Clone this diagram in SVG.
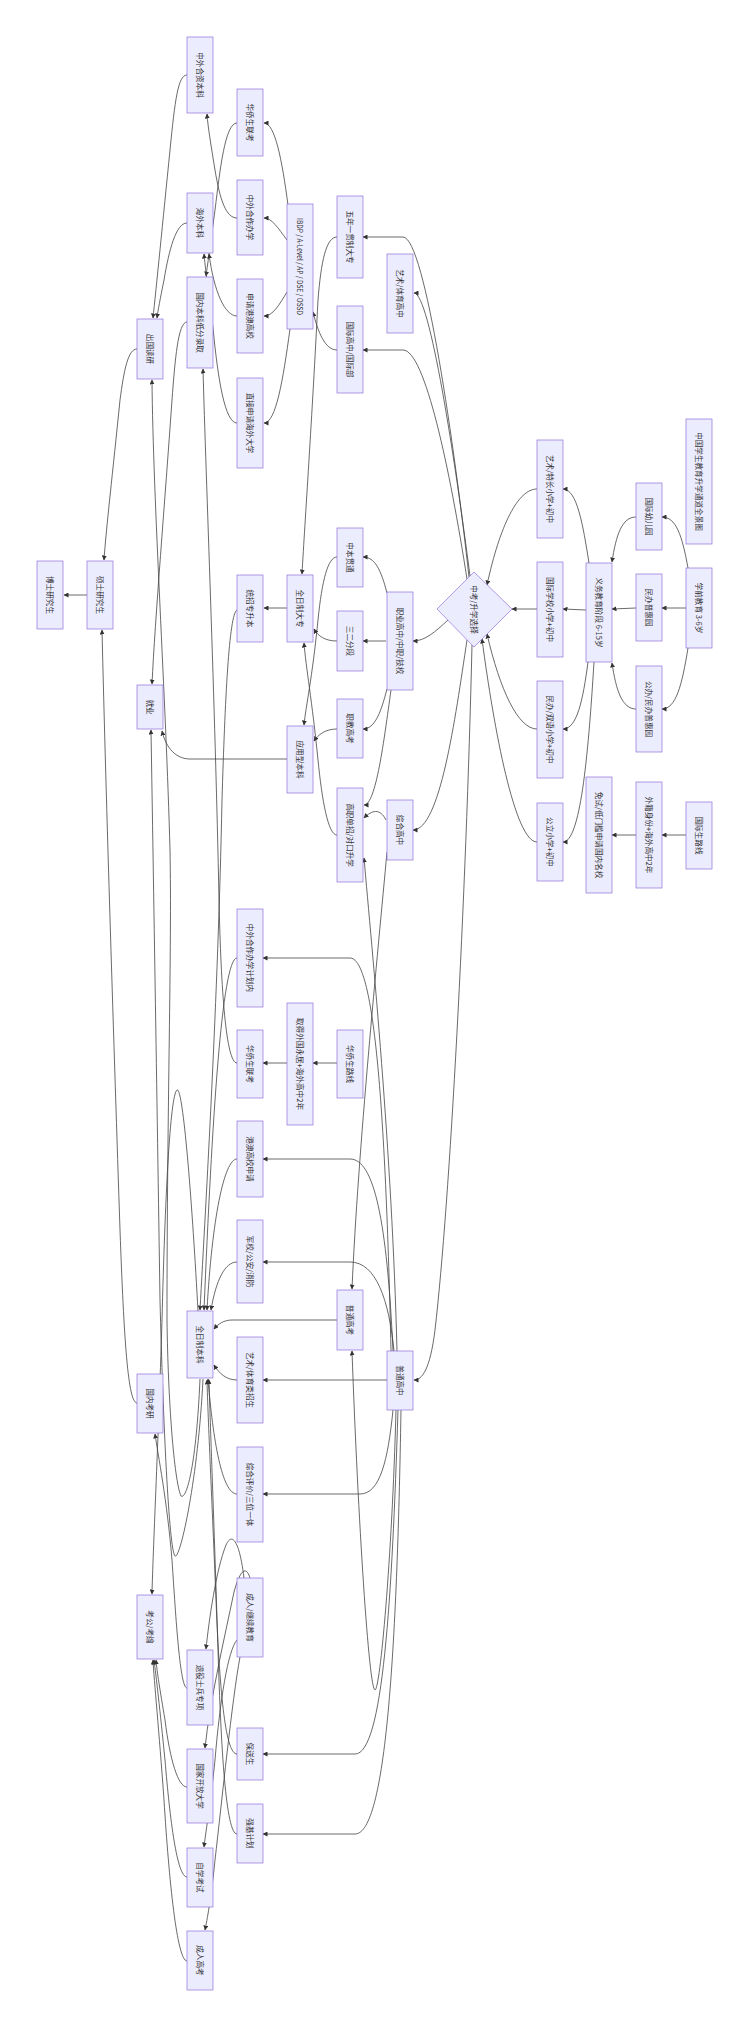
<svg xmlns="http://www.w3.org/2000/svg" width="750" height="2029" viewBox="0 0 750 2029">
<defs>
<marker id="arr" viewBox="0 0 10 10" refX="9" refY="5" markerWidth="5" markerHeight="5" markerUnits="userSpaceOnUse" orient="auto"><path d="M0,0 L10,5 L0,10 z" fill="#333"/></marker>
<style>
.node rect,.node polygon{fill:#ECECFF;stroke:#9370DB;stroke-width:0.7}
.node text{font-family:"Noto Sans CJK SC","Noto Sans","Liberation Sans",sans-serif;font-size:7.6px;fill:#333;text-anchor:middle;dominant-baseline:central}
.edges path{fill:none;stroke:#444;stroke-width:0.8;marker-end:url(#arr)}
</style>
</defs>
<rect width="750" height="2029" fill="#fff"/>
<g id="edges" class="edges">
<path d="M688,568 C682,535 676,517 662,517"/>
<path d="M686,608 L662,608"/>
<path d="M688,648 C682,685 676,709 662,709"/>
<path d="M636,517 C622,517 616,535 612,562"/>
<path d="M636,608 L612,609"/>
<path d="M636,709 C622,709 616,690 612,663"/>
<path d="M589,563 C583,525 577,489 563,489"/>
<path d="M586,610 L563,609"/>
<path d="M588,662 C583,700 577,729 563,729"/>
<path d="M594,662 C588,760 580,842 563,842"/>
<path d="M686,835 L662,835"/>
<path d="M636,835 L612,835"/>
<path d="M537,489 C518,489 500,525 487,585"/>
<path d="M537,609 L512,609"/>
<path d="M537,729 C518,729 500,690 487,634"/>
<path d="M537,842 C515,842 494,730 482,639"/>
<path d="M448,620 C435,632 425,641 413,641"/>
<path d="M467,640 C455,720 440,830 413,830"/>
<path d="M472,645 C466,900 450,1200 435,1330 C430,1370 422,1380 414,1380"/>
<path d="M469,577 C455,450 425,237 403,237 L363,237"/>
<path d="M470,576 C455,460 430,293 414,293"/>
<path d="M467,579 C450,470 425,350 403,350 L363,350"/>
<path d="M387,593 C381,570 375,557 363,557"/>
<path d="M386,641 L363,641"/>
<path d="M387,689 C381,712 375,729 363,729"/>
<path d="M391,690 C384,740 376,805 364,805"/>
<path d="M386,820 C380,808 372,810 364,818"/>
<path d="M387,852 C378,950 358,1150 352,1289"/>
<path d="M397,1351 C392,1150 372,950 364,858"/>
<path d="M391,1351 C385,1080 372,958 350,958 L263,958"/>
<path d="M393,1351 C387,1220 374,1159 350,1159 L263,1159"/>
<path d="M394,1351 C389,1300 376,1262 350,1262 L263,1262"/>
<path d="M396,1410 C392,1560 380,1690 375,1690 C369,1690 358,1520 352,1351"/>
<path d="M387,1380 L263,1380"/>
<path d="M393,1410 C388,1460 380,1494 360,1494 L263,1494"/>
<path d="M398,1410 C392,1600 383,1754 355,1754 L263,1754"/>
<path d="M401,1410 C397,1650 386,1834 355,1834 L263,1834"/>
<path d="M337,1320 L232,1320 C224,1320 218,1324 214,1329"/>
<path d="M237,1380 C226,1380 219,1373 214,1365"/>
<path d="M237,1494 C222,1494 213,1440 208,1379"/>
<path d="M237,1262 C225,1262 216,1280 211,1310"/>
<path d="M237,1159 C224,1159 212,1220 207,1310"/>
<path d="M237,958 C222,958 212,1120 204,1310"/>
<path d="M237,1063 C226,1063 221,990 219,900 C215,700 206,480 203,369"/>
<path d="M237,610 C229,614 225,700 222,800 C218,1000 206,1200 200,1310"/>
<path d="M337,1063 L313,1063"/>
<path d="M287,1063 L263,1063"/>
<path d="M337,237 C326,237 321,262 318,300 C312,420 305,520 302,574"/>
<path d="M337,350 C325,350 318,332 313,312"/>
<path d="M288,205 C282,160 275,123 264,123"/>
<path d="M287,240 C278,228 272,218 264,218"/>
<path d="M287,292 C279,305 273,316 264,316"/>
<path d="M290,329 C283,380 276,423 264,423"/>
<path d="M237,123 C225,123 220,170 215,210 C211,240 208,262 206,276"/>
<path d="M237,218 C226,218 220,200 215,170 C211,145 208,128 207,114"/>
<path d="M237,316 C225,316 214,292 209,254"/>
<path d="M237,423 C225,423 218,380 213,328 C210,300 206,276 204,254"/>
<path d="M187,223 C176,223 169,250 164,280 C160,300 158,310 157,318"/>
<path d="M187,75 C178,75 175,100 170,150 C163,220 156,290 153,318"/>
<path d="M187,322 C178,322 175,360 172,400 C165,500 155,620 152,684"/>
<path d="M137,349 C128,349 124,370 120,400 C113,470 106,530 104,560"/>
<path d="M87,595 L64,595"/>
<path d="M137,1403 C128,1403 124,1340 120,1230 C114,1050 106,800 102,630"/>
<path d="M287,608 L264,608"/>
<path d="M337,557 C328,557 322,580 318,620 C312,680 306,705 304,725"/>
<path d="M337,641 C325,641 318,636 314,629"/>
<path d="M337,729 C325,729 318,735 314,741"/>
<path d="M337,835 C328,835 322,800 318,760 C312,700 306,668 304,643"/>
<path d="M287,759 L190,759 C176,759 166,748 162,731"/>
<path d="M200,1379 C196,1470 186,1500 181,1496 C174,1480 168,1400 167,1320 C167,1100 172,950 170,850 C166,700 153,500 152,380"/>
<path d="M187,1688 C180,1688 176,1620 172,1560 C167,1500 158,1455 155,1434"/>
<path d="M203,1379 C198,1480 180,1560 175,1556 C169,1550 163,1420 160,1300 C157,1100 153,850 151,730"/>
<path d="M198,1311 C192,1200 183,1086 177,1090 C170,1095 165,1200 162,1320 C158,1450 153,1550 152,1594"/>
<path d="M244,1578 C240,1545 233,1530 226,1545 C216,1570 209,1620 206,1649"/>
<path d="M250,1578 C246,1565 240,1570 234,1592 C224,1640 210,1700 205,1748"/>
<path d="M237,1640 C228,1650 220,1700 215,1760 C211,1800 206,1830 204,1847"/>
<path d="M240,1657 C232,1700 222,1800 215,1860 C211,1900 207,1920 205,1930"/>
<path d="M237,1754 C226,1754 220,1700 216,1600 C212,1500 208,1420 207,1380"/>
<path d="M237,1834 C226,1834 221,1750 218,1650 C214,1520 210,1420 209,1380"/>
<path d="M187,1787 C178,1787 170,1760 165,1720 C160,1690 157,1672 156,1660"/>
<path d="M187,1877 C177,1877 170,1820 165,1760 C160,1710 156,1675 154,1660"/>
<path d="M187,1961 C177,1961 169,1880 164,1800 C159,1730 154,1680 153,1660"/>
</g>
<g id="n_title" class="node"><rect x="686" y="419" width="26" height="125"/><text transform="translate(699,481.5) rotate(90)">中国学生教育升学通道全景图</text></g>
<g id="n_xq" class="node"><rect x="686" y="568" width="26" height="80"/><text transform="translate(699,608) rotate(90)">学前教育 3-6岁</text></g>
<g id="n_gjs" class="node"><rect x="686" y="802" width="26" height="67"/><text transform="translate(699,835.5) rotate(90)">国际生路线</text></g>
<g id="n_gjy" class="node"><rect x="636" y="483" width="26" height="67"/><text transform="translate(649,516.5) rotate(90)">国际幼儿园</text></g>
<g id="n_mbp" class="node"><rect x="636" y="574" width="26" height="67"/><text transform="translate(649,607.5) rotate(90)">民办普惠园</text></g>
<g id="n_gbp" class="node"><rect x="636" y="666" width="26" height="86"/><text transform="translate(649,709) rotate(90)">公办/民办普惠园</text></g>
<g id="n_wj" class="node"><rect x="636" y="782" width="26" height="106"/><text transform="translate(649,835) rotate(90)">外籍身份+海外高中2年</text></g>
<g id="n_yw" class="node"><rect x="586" y="563" width="26" height="99"/><text transform="translate(599,612.5) rotate(90)">义务教育阶段 6-15岁</text></g>
<g id="n_ms" class="node"><rect x="586" y="777" width="26" height="116"/><text transform="translate(599,835) rotate(90)">免试/低门槛申请国内名校</text></g>
<g id="n_yst" class="node"><rect x="537" y="440" width="26" height="98"/><text transform="translate(550,489) rotate(90)">艺术/特长小学+初中</text></g>
<g id="n_gjx" class="node"><rect x="537" y="562" width="26" height="95"/><text transform="translate(550,609.5) rotate(90)">国际学校小学+初中</text></g>
<g id="n_mbs" class="node"><rect x="537" y="681" width="26" height="97"/><text transform="translate(550,729.5) rotate(90)">民办/双语小学+初中</text></g>
<g id="n_gl" class="node"><rect x="537" y="803" width="26" height="78"/><text transform="translate(550,842) rotate(90)">公立小学+初中</text></g>
<g id="n_zk" class="node"><polygon points="474,572 512,609 474,647 437,609"/><text transform="translate(474,609.5) rotate(90)">中考/升学选择</text></g>
<g id="n_ytg" class="node"><rect x="387" y="254" width="26" height="79"/><text transform="translate(400,293.5) rotate(90)">艺术/体育高中</text></g>
<g id="n_zy" class="node"><rect x="387" y="592" width="26" height="98"/><text transform="translate(400,641) rotate(90)">职业高中/中职/技校</text></g>
<g id="n_zh" class="node"><rect x="387" y="800" width="26" height="60"/><text transform="translate(400,830) rotate(90)">综合高中</text></g>
<g id="n_pg" class="node"><rect x="387" y="1351" width="26" height="59"/><text transform="translate(400,1380.5) rotate(90)">普通高中</text></g>
<g id="n_wn" class="node"><rect x="337" y="196" width="26" height="82"/><text transform="translate(350,237) rotate(90)">五年一贯制大专</text></g>
<g id="n_gjg" class="node"><rect x="337" y="306" width="26" height="87"/><text transform="translate(350,349.5) rotate(90)">国际高中/国际部</text></g>
<g id="n_zb" class="node"><rect x="337" y="528" width="26" height="59"/><text transform="translate(350,557.5) rotate(90)">中本贯通</text></g>
<g id="n_32" class="node"><rect x="337" y="611" width="26" height="60"/><text transform="translate(350,641) rotate(90)">三二分段</text></g>
<g id="n_zjgk" class="node"><rect x="337" y="699" width="26" height="59"/><text transform="translate(350,728.5) rotate(90)">职教高考</text></g>
<g id="n_gzdz" class="node"><rect x="337" y="788" width="26" height="94"/><text transform="translate(350,835) rotate(90)">高职单招/对口升学</text></g>
<g id="n_hqlx" class="node"><rect x="337" y="1030" width="26" height="68"/><text transform="translate(350,1064) rotate(90)">华侨生路线</text></g>
<g id="n_ptgk" class="node"><rect x="337" y="1290" width="26" height="60"/><text transform="translate(350,1320) rotate(90)">普通高考</text></g>
<g id="n_ib" class="node"><rect x="287" y="204" width="26" height="125"/><text transform="translate(300,266.5) rotate(90)" textLength="97" lengthAdjust="spacingAndGlyphs">IBDP / A-Level / AP / DSE / OSSD</text></g>
<g id="n_qrdz" class="node"><rect x="287" y="575" width="26" height="67"/><text transform="translate(300,608.5) rotate(90)">全日制大专</text></g>
<g id="n_yyx" class="node"><rect x="287" y="726" width="26" height="67"/><text transform="translate(300,759.5) rotate(90)">应用型本科</text></g>
<g id="n_qdwg" class="node"><rect x="287" y="1003" width="26" height="122"/><text transform="translate(300,1064) rotate(90)">取得外国永居+海外高中2年</text></g>
<g id="n_hql1" class="node"><rect x="237" y="89" width="26" height="67"/><text transform="translate(250,122.5) rotate(90)">华侨生联考</text></g>
<g id="n_zwhz" class="node"><rect x="237" y="180" width="26" height="75"/><text transform="translate(250,217.5) rotate(90)">中外合作办学</text></g>
<g id="n_sqga" class="node"><rect x="237" y="279" width="26" height="74"/><text transform="translate(250,316) rotate(90)">申请港澳高校</text></g>
<g id="n_zjsq" class="node"><rect x="237" y="378" width="26" height="90"/><text transform="translate(250,423) rotate(90)">直接申请海外大学</text></g>
<g id="n_tzzsb" class="node"><rect x="237" y="575" width="26" height="67"/><text transform="translate(250,608.5) rotate(90)">统招专升本</text></g>
<g id="n_zwjh" class="node"><rect x="237" y="909" width="26" height="98"/><text transform="translate(250,958) rotate(90)">中外合作办学计划内</text></g>
<g id="n_hql2" class="node"><rect x="237" y="1030" width="26" height="68"/><text transform="translate(250,1064) rotate(90)">华侨生联考</text></g>
<g id="n_gagx" class="node"><rect x="237" y="1121" width="26" height="76"/><text transform="translate(250,1159) rotate(90)">港澳高校申请</text></g>
<g id="n_jx" class="node"><rect x="237" y="1220" width="26" height="83"/><text transform="translate(250,1261.5) rotate(90)">军校/公安/消防</text></g>
<g id="n_yttl" class="node"><rect x="237" y="1337" width="26" height="86"/><text transform="translate(250,1380) rotate(90)">艺术/体育类招生</text></g>
<g id="n_zhpj" class="node"><rect x="237" y="1447" width="26" height="95"/><text transform="translate(250,1494.5) rotate(90)">综合评价/三位一体</text></g>
<g id="n_cr" class="node"><rect x="237" y="1578" width="26" height="79"/><text transform="translate(250,1617.5) rotate(90)">成人/继续教育</text></g>
<g id="n_bss" class="node"><rect x="237" y="1728" width="26" height="52"/><text transform="translate(250,1754) rotate(90)">保送生</text></g>
<g id="n_qj" class="node"><rect x="237" y="1804" width="26" height="59"/><text transform="translate(250,1833.5) rotate(90)">强基计划</text></g>
<g id="n_zwhzbk" class="node"><rect x="187" y="37" width="26" height="76"/><text transform="translate(200,75) rotate(90)">中外合资本科</text></g>
<g id="n_hwbk" class="node"><rect x="187" y="193" width="26" height="60"/><text transform="translate(200,223) rotate(90)">海外本科</text></g>
<g id="n_gnbk" class="node"><rect x="187" y="277" width="26" height="91"/><text transform="translate(200,322.5) rotate(90)">国内本科低分录取</text></g>
<g id="n_qrbk" class="node"><rect x="187" y="1311" width="26" height="67"/><text transform="translate(200,1344.5) rotate(90)">全日制本科</text></g>
<g id="n_tysb" class="node"><rect x="187" y="1650" width="26" height="75"/><text transform="translate(200,1687.5) rotate(90)">退役士兵专项</text></g>
<g id="n_gjkf" class="node"><rect x="187" y="1749" width="26" height="74"/><text transform="translate(200,1786) rotate(90)">国家开放大学</text></g>
<g id="n_zxks" class="node"><rect x="187" y="1848" width="26" height="59"/><text transform="translate(200,1877.5) rotate(90)">自学考试</text></g>
<g id="n_crgk" class="node"><rect x="187" y="1931" width="26" height="59"/><text transform="translate(200,1960.5) rotate(90)">成人高考</text></g>
<g id="n_cgdy" class="node"><rect x="137" y="319" width="26" height="60"/><text transform="translate(150,349) rotate(90)">出国读研</text></g>
<g id="n_jy" class="node"><rect x="137" y="685" width="26" height="44"/><text transform="translate(150,707) rotate(90)">就业</text></g>
<g id="n_gnky" class="node"><rect x="137" y="1374" width="26" height="59"/><text transform="translate(150,1403.5) rotate(90)">国内考研</text></g>
<g id="n_kg" class="node"><rect x="137" y="1595" width="26" height="64"/><text transform="translate(150,1627) rotate(90)">考公/考编</text></g>
<g id="n_ss" class="node"><rect x="87" y="561" width="26" height="68"/><text transform="translate(100,595) rotate(90)">硕士研究生</text></g>
<g id="n_bs" class="node"><rect x="37" y="561" width="26" height="68"/><text transform="translate(50,595) rotate(90)">博士研究生</text></g>
</svg>
